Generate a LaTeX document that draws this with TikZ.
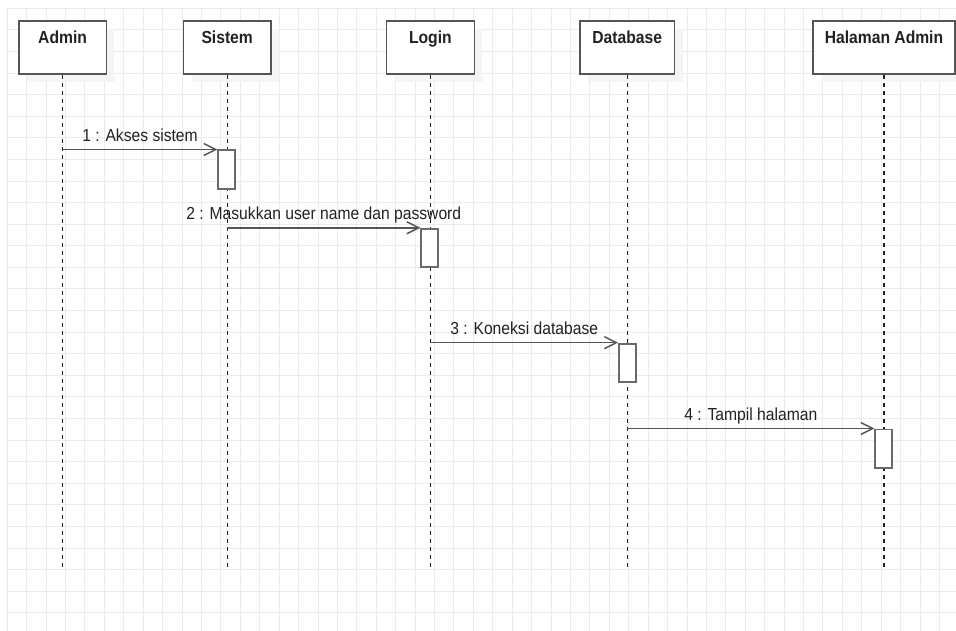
\documentclass[tikz,border=0pt]{standalone}
\usepackage{fontspec}
\setmainfont[FakeStretch=0.9]{Liberation Sans}
\usetikzlibrary{arrows.meta,shadows}
\definecolor{gridcol}{HTML}{EBEBEB}
\definecolor{edgecol}{HTML}{555555}
\definecolor{actcol}{HTML}{6A6A6A}
\definecolor{inkcol}{HTML}{222222}
\begin{document}
\begin{tikzpicture}[x=1pt,y=-1pt,
  gridline/.style={draw=gridcol,line width=1pt},
  lifebox/.style={draw=edgecol,line width=1.8pt,fill=white,minimum height=53.3pt,
    inner sep=0pt,drop shadow={shadow xshift=8pt,shadow yshift=-8pt,fill=black!4,opacity=1}},
  lifetitle/.style={anchor=base,text=inkcol,font=\fontsize{17.4}{20}\selectfont\bfseries},
  lifeline/.style={draw=inkcol,line width=1.2pt,dash pattern=on 4.5pt off 3.5pt},
  actbox/.style={draw=actcol,line width=1.8pt,fill=white,minimum width=16.7pt,
    minimum height=38.5pt,inner sep=0pt,anchor=north},
  msg/.style={draw=edgecol,line width=1.5pt,-{Straight Barb[length=12pt,width=12pt,line width=1.5pt]}},
  msglabel/.style={anchor=base,yshift=8pt,text=inkcol,font=\fontsize{17.4}{20}\selectfont}]
\useasboundingbox (0,0) rectangle (956,631);
\fill[white] (0,0) rectangle (956,631);
% background grid
\foreach \i in {0,...,49} \draw[gridline] ({7.3+19.42*\i},8.3) -- ({7.3+19.42*\i},631);
\foreach \j in {0,...,28} \draw[gridline] (7.3,{8.3+21.59*\j}) -- (956,{8.3+21.59*\j});

% participants
\node[lifebox,minimum width=87.7pt] (admin) at (62.6,47.3) {};
\node[lifebox,minimum width=87.3pt] (sistem) at (227.2,47.3) {};
\node[lifebox,minimum width=88pt] (login) at (430.4,47.3) {};
\node[lifebox,minimum width=94.7pt] (database) at (627.2,47.3) {};
\node[lifebox,minimum width=142pt] (halaman) at (884,47.3) {};

\node[lifetitle] (tadmin) at ([yshift=-23.6pt]admin.north) {Admin};
\node[lifetitle] (tsistem) at ([yshift=-23.6pt]sistem.north) {Sistem};
\node[lifetitle] (tlogin) at ([yshift=-23.6pt]login.north) {Login};
\node[lifetitle] (tdatabase) at ([yshift=-23.6pt]database.north) {Database};
\node[lifetitle] (thalaman) at ([yshift=-23.6pt]halaman.north) {Halaman Admin};

% lifeline ends
\coordinate (eadmin) at (62.6,568);
\coordinate (esistem) at (227.2,568);
\coordinate (elogin) at (430.4,568);
\coordinate (edatabase) at (627.2,568);
\coordinate (ehalaman) at (884,568);

\draw[lifeline] (admin.south) -- (eadmin);
\draw[lifeline] (sistem.south) -- (esistem);
\draw[lifeline] (login.south) -- (elogin);
\draw[lifeline] (database.south) -- (edatabase);
\draw[lifeline] (halaman.south) -- (ehalaman);

% activations
\node[actbox] (act1) at (226.7,149.5) {};
\node[actbox] (act2) at (429.7,227.8) {};
\node[actbox] (act3) at (627.3,342.7) {};
\node[actbox] (act4) at (883.7,428.5) {};

% messages
\draw[msg] (admin.south |- act1.north west) -- node[msglabel] {1 : Akses sistem} (act1.north west);
\draw[msg] (sistem.south |- act2.north west) -- node[msglabel] {2 : Masukkan user name dan password} (act2.north west);
\draw[msg] (login.south |- act3.north west) -- node[msglabel] {3 : Koneksi database} (act3.north west);
\draw[msg] (database.south |- act4.north west) -- node[msglabel] {4 : Tampil halaman} (act4.north west);
\end{tikzpicture}
\end{document}
